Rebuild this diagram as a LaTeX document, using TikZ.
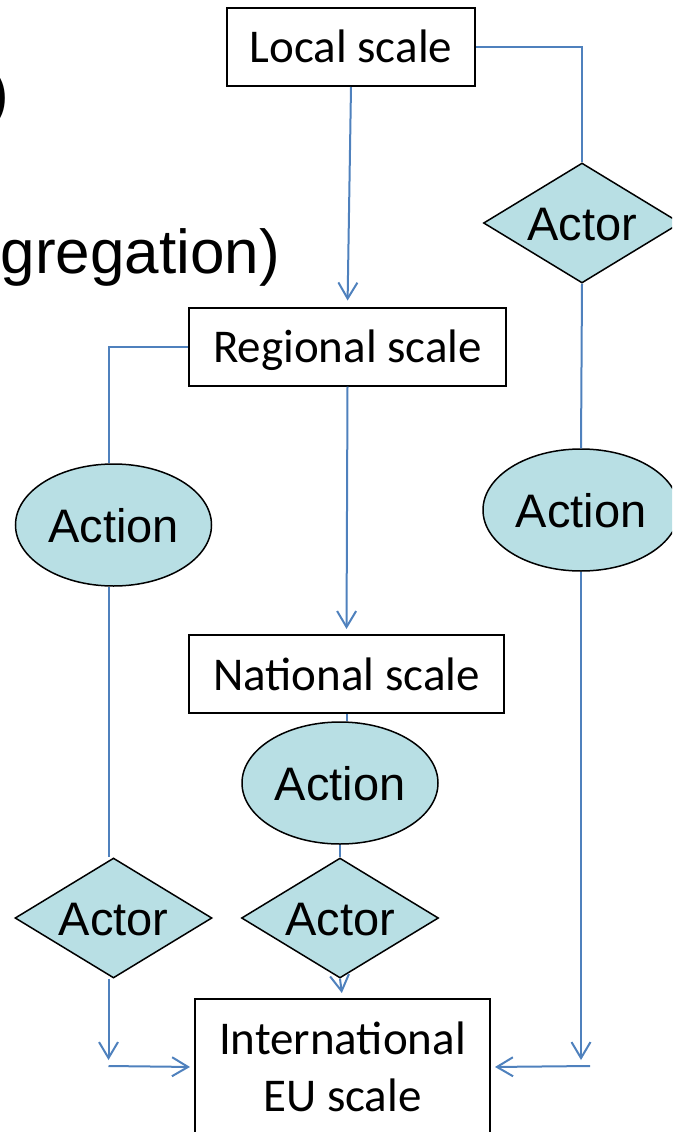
\documentclass[tikz,border=0pt]{standalone}
\usepackage{fontspec}
\usepackage{tikz}
\usetikzlibrary{shapes.geometric,arrows.meta}
\newfontfamily\scaleFont{Carlito}
\newfontfamily\shapeFont{Liberation Sans}
\definecolor{linkBlue}{HTML}{4F81BD}
\definecolor{shapeFill}{HTML}{B8DFE4}

\begin{document}
\begin{tikzpicture}[x=1pt,y=-1pt,
  boxBase/.style={draw, line width=2pt, rectangle, inner sep=0pt, font=\scaleFont\fontsize{47}{57}\selectfont},
  scaleBox/.style={boxBase, minimum height=78pt, text height=34pt, text depth=2pt},
  shapeBase/.style={draw, line width=1.5pt, fill=shapeFill, inner sep=0pt, text height=34pt, text depth=0pt, font=\shapeFont\fontsize{47}{56}\selectfont},
  actionShape/.style={shapeBase, ellipse, minimum width=196pt, minimum height=122pt},
  actorShape/.style={shapeBase, diamond, aspect=1.64, minimum width=197pt, minimum height=120pt},
  link/.style={draw=linkBlue, line width=2pt},
  linkArrow/.style={link, -{Straight Barb[length=16pt,width=19pt]}}]
\useasboundingbox (0,0) rectangle (672,1132);
\clip (0,0) rectangle (672,1132);
\node[anchor=base east, inner sep=0pt, font=\shapeFont\fontsize{62}{70}\selectfont] (headParen) at (9,114) {)};
\node[anchor=base east, inner sep=0pt, font=\shapeFont\fontsize{62}{70}\selectfont] (headTail) at (280,273) {gregation)};
\node[scaleBox, minimum width=248pt] (local) at (351,47) {Local scale};
\node[scaleBox, minimum width=317pt] (regional) at (347.5,346.5) {Regional scale};
\node[scaleBox, minimum width=315pt] (national) at (346.5,674) {National scale};
\node[boxBase, align=center, anchor=north, minimum width=295pt, minimum height=136pt] (intl) at (342.5,998) {International\\EU scale};
\node[actorShape] (actorR) at (582,223) {Actor};
\node[actionShape] (actionR) at (581,510) {Action};
\node[actionShape] (actionL) at (113.5,525) {Action};
\node[actorShape] (actorL) at (113.5,918) {Actor};
\node[actionShape] (actionM) at (340,783) {Action};
\node[actorShape] (actorM) at (340,918) {Actor};
\coordinate (rTip) at (581,1060);
\coordinate (rFoot) at (590,1066);
\coordinate (lTip) at (108.5,1060);
\coordinate (lFoot) at (108.5,1066);
\draw[linkArrow, shorten >=6pt] (local.south) -- (regional.north);
\draw[link] (local.east) -| (actorR.north);
\draw[link] (actorR.south) -- (actionR.north);
\draw[linkArrow] (actionR.south) -- (rTip);
\draw[linkArrow, shorten >=4pt] (rFoot) -- (intl.east);
\draw[link] (regional.west) -| ([xshift=-5pt]actionL.north);
\draw[link] ([xshift=-5pt]actionL.south) -- ([xshift=-5pt]actorL.north);
\draw[linkArrow] ([xshift=-5pt]actorL.south) -- (lTip);
\draw[linkArrow, shorten >=4pt] (lFoot) -- (intl.west);
\draw[linkArrow, shorten >=5pt] (regional.south) -- (national.north);
\draw[link] (national.south) -- (national.south |- actionM.north);
\draw[link] (actionM.south) -- (actorM.north);
\draw[linkArrow, shorten >=5pt] (actorM.south) -- (intl.north);
\end{tikzpicture}
\end{document}
